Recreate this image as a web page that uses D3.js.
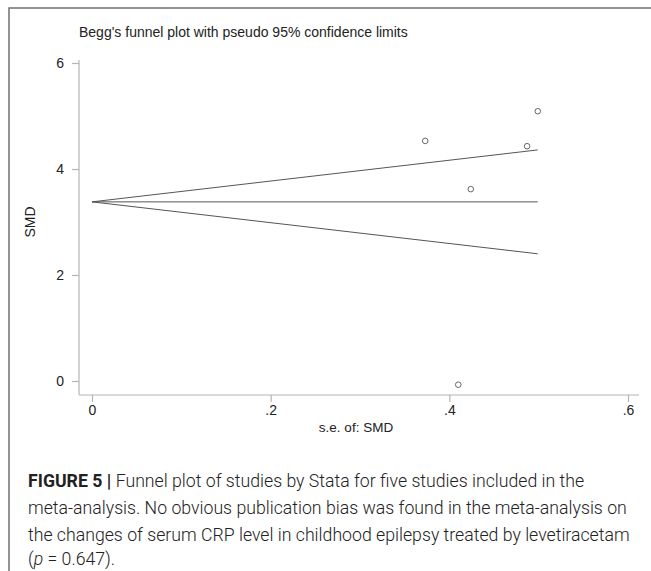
<!DOCTYPE html>
<html>
<head>
<meta charset="utf-8">
<script src="https://cdn.jsdelivr.net/npm/d3@7"></script>
<style>
  body { margin: 0; background: #fff; }
  svg { display: block; }
</style>
</head>
<body>
<div id="chart"></div>
<script>
// study points: standard error vs SMD
const studySE = [0.373, 0.499, 0.487, 0.424, 0.41]
const studySMD = [4.53, 5.09, 4.43, 3.62, -0.07]

// pooled estimate and pseudo 95% limits (ends of the funnel)
const funnelSE = [0, 0.499]
const pooled = [3.38, 3.38]
const upperLimit = [3.38, 4.36]
const lowerLimit = [3.38, 2.40]

const xTicks = [0, 0.2, 0.4, 0.6]
const xTickLabels = ['0', '.2', '.4', '.6']
const yTicks = [0, 2, 4, 6]

const captionLines = [
  'Funnel plot of studies by Stata for five studies included in the',
  'meta-analysis. No obvious publication bias was found in the meta-analysis on',
  'the changes of serum CRP level in childhood epilepsy treated by levetiracetam',
  '= 0.647).'
]

const width = 651
const height = 571

const svg = d3.select('#chart').append('svg').attr('width', width).attr('height', height)

// outer frame (top and left edges only)
svg.append('path')
  .attr('d', `M9,${height} L9,8 L${width},8`)
  .attr('fill', 'none')
  .attr('stroke', '#707070')
  .attr('stroke-width', 1.5)

const x = d3.scaleLinear().domain([0, 0.6]).range([92, 628])
const y = d3.scaleLinear().domain([0, 6]).range([381, 63])

const axisColor = '#b4b4b4'
const font = 'Liberation Sans, Arial, sans-serif'

// axis lines
svg.append('line')
  .attr('x1', 79).attr('x2', 79).attr('y1', 60).attr('y2', 395)
  .attr('stroke', axisColor).attr('stroke-width', 1.2)
svg.append('line')
  .attr('x1', 79).attr('x2', 639).attr('y1', 395).attr('y2', 395)
  .attr('stroke', axisColor).attr('stroke-width', 1.2)

// y axis
const yAxis = d3.axisLeft(y).tickValues(yTicks).tickSize(7).tickPadding(8).tickFormat(d3.format('d'))
const gy = svg.append('g').attr('transform', 'translate(79,0)').call(yAxis)
gy.select('.domain').remove()
gy.selectAll('line').attr('stroke', axisColor).attr('stroke-width', 1.2)
gy.selectAll('text').attr('font-family', font).attr('font-size', 14).attr('fill', '#222')

// x axis
const xAxis = d3.axisBottom(x).tickValues(xTicks).tickSize(7).tickPadding(3)
  .tickFormat((d, i) => xTickLabels[i])
const gx = svg.append('g').attr('transform', 'translate(0,395)').call(xAxis)
gx.select('.domain').remove()
gx.selectAll('line').attr('stroke', axisColor).attr('stroke-width', 1.2)
gx.selectAll('text').attr('font-family', font).attr('font-size', 14).attr('fill', '#222')

// funnel lines
const line = d3.line().x(d => x(d[0])).y(d => y(d[1]))
;[upperLimit, pooled, lowerLimit].forEach(vals => {
  svg.append('path')
    .datum(funnelSE.map((s, i) => [s, vals[i]]))
    .attr('d', line)
    .attr('fill', 'none')
    .attr('stroke', '#555')
    .attr('stroke-width', 1)
})

// study points
svg.selectAll('circle.study')
  .data(studySE.map((s, i) => [s, studySMD[i]]))
  .join('circle')
  .attr('class', 'study')
  .attr('cx', d => x(d[0]))
  .attr('cy', d => y(d[1]))
  .attr('r', 2.8)
  .attr('fill', 'none')
  .attr('stroke', '#666')
  .attr('stroke-width', 1)

// title and axis titles
svg.append('text')
  .attr('x', 79).attr('y', 37)
  .attr('font-family', font).attr('font-size', 14).attr('fill', '#222')
  .text("Begg's funnel plot with pseudo 95% confidence limits")

svg.append('text')
  .attr('transform', 'translate(35,222) rotate(-90)')
  .attr('text-anchor', 'middle')
  .attr('font-family', font).attr('font-size', 14).attr('fill', '#222')
  .text('SMD')

svg.append('text')
  .attr('x', 356).attr('y', 432)
  .attr('text-anchor', 'middle')
  .attr('font-family', font).attr('font-size', 13.5).attr('fill', '#222')
  .text('s.e. of: SMD')

// caption
const capFont = 'Roboto, Liberation Sans, sans-serif'
const capY = [487, 514, 541, 565]
const cap = svg.append('g').attr('font-family', capFont).attr('font-size', 17.7).attr('fill', '#222')

const first = cap.append('text').attr('x', 28).attr('y', capY[0])
first.append('tspan').attr('font-weight', 'bold').text('FIGURE 5 | ')
first.append('tspan').attr('font-weight', 300).text(captionLines[0])

cap.append('text').attr('x', 28).attr('y', capY[1]).attr('font-weight', 300).text(captionLines[1])
cap.append('text').attr('x', 28).attr('y', capY[2]).attr('font-weight', 300).text(captionLines[2])

const last = cap.append('text').attr('x', 28).attr('y', capY[3]).attr('font-weight', 300)
last.append('tspan').text('(')
last.append('tspan').attr('font-style', 'italic').text('p')
last.append('tspan').text(' ' + captionLines[3])
</script>
</body>
</html>
